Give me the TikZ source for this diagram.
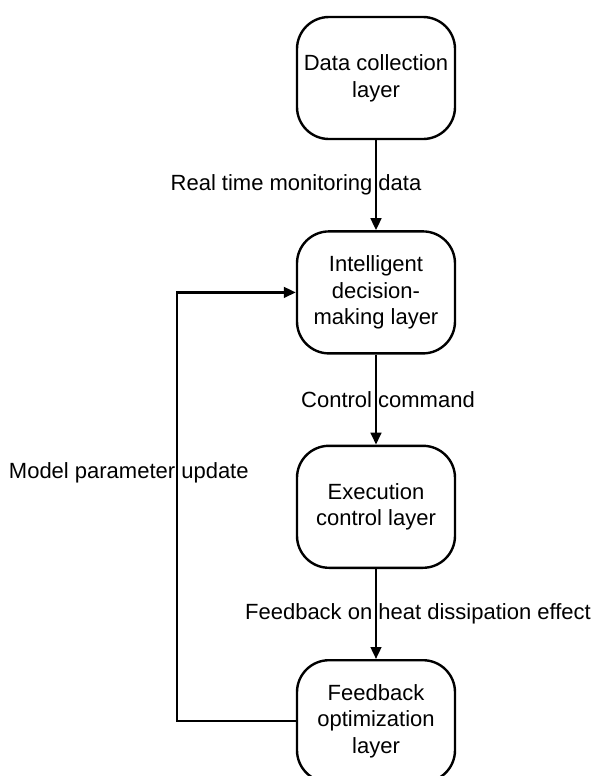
\documentclass[tikz,border=0pt]{standalone}
\usepackage{fontspec}
\setmainfont{Liberation Sans}
\usetikzlibrary{calc,positioning,arrows.meta}

\begin{document}
\begin{tikzpicture}[x=0.75pt,y=-0.75pt,
  layer/.style={draw, line width=1.8pt, rounded corners=24pt,
                minimum width=118.5pt, minimum height=91.5pt,
                align=center, font=\fontsize{16.5}{20}\selectfont},
  flow/.style={-{Triangle[length=9pt,width=8pt]}, line width=1.8pt},
  lbl/.style={font=\fontsize{16.5}{20}\selectfont}]

\useasboundingbox (0,0) rectangle (600,776);

\node[layer] (collect) at (376,78) {Data collection\\layer};
\node[layer, below=67.5pt of collect] (decision) {Intelligent\\decision-\\making layer};
\node[layer, below=67.5pt of decision] (execute) {Execution\\control layer};
\node[layer, below=67.5pt of execute] (optimize) {Feedback\\optimization\\layer};

\coordinate (loop) at ($(decision.west)+(-119,0)$);

\draw[flow] (collect) -- (decision);
\draw[flow] (decision) -- (execute);
\draw[flow] (execute) -- (optimize);
\draw[flow] (optimize.west) -| (loop) -- (decision.west);

\node[lbl] (monitor) at ($(collect.south)!0.5!(decision.north)+(-80,0)$) {Real time monitoring data};
\node[lbl] (command) at ($(decision.south)!0.5!(execute.north)+(12,0)$) {Control command};
\node[lbl] (effect) at ($(execute.south)!0.5!(optimize.north)+(42,0)$) {Feedback on heat dissipation effect};
\node[lbl] (update) at ($(loop)+(-48,180)$) {Model parameter update};
\end{tikzpicture}
\end{document}
